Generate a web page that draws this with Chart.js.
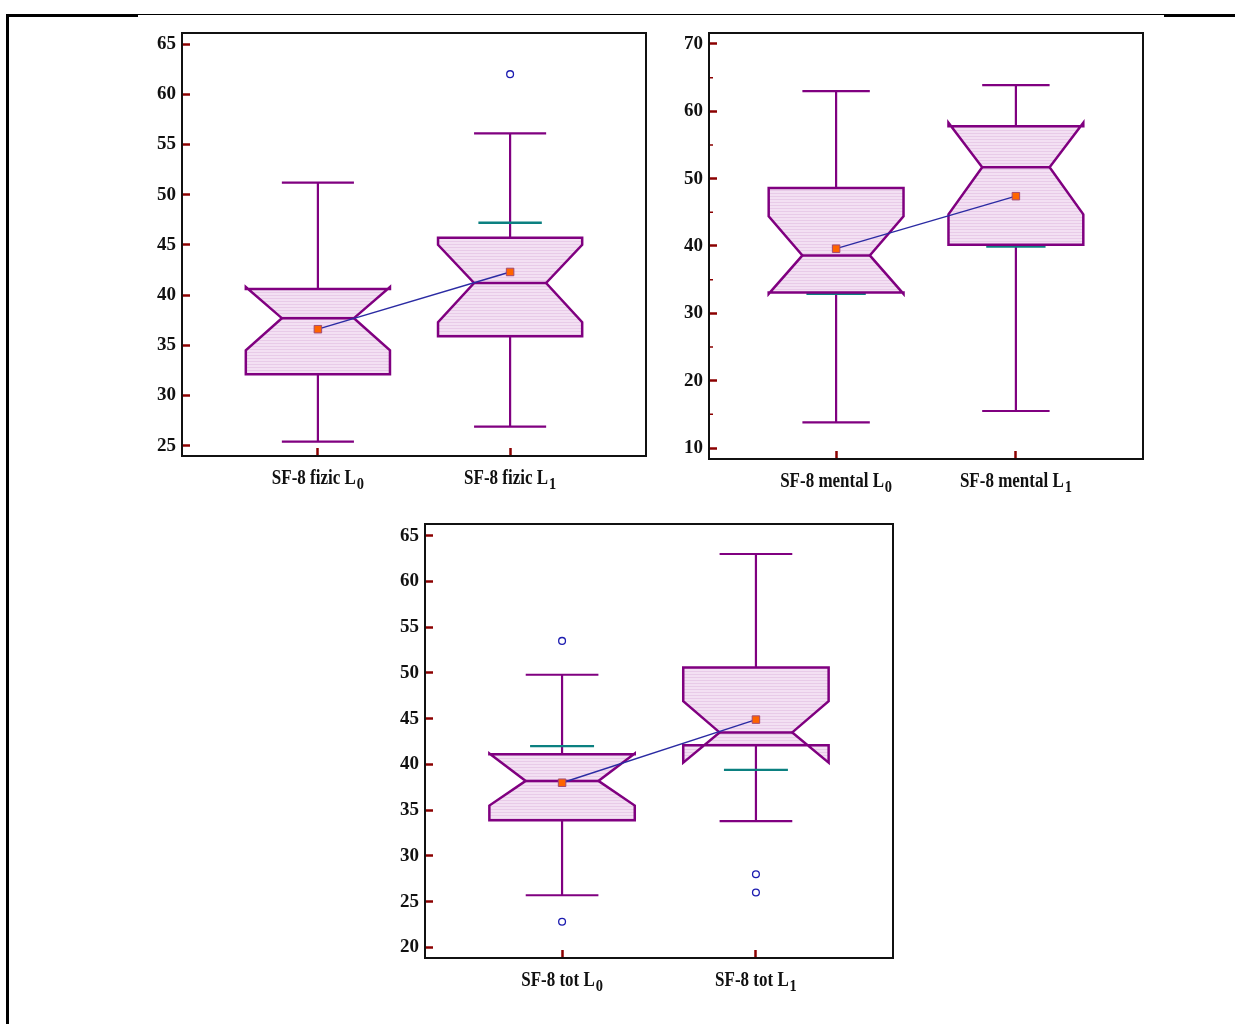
<!DOCTYPE html>
<html>
<head>
<meta charset="utf-8">
<title>SF-8 L0 / L1</title>
<script src="https://cdn.jsdelivr.net/npm/chart.js@4.4.1/dist/chart.umd.min.js"></script>
<style>
  html, body { margin: 0; padding: 0; background: #fff; }
  body { width: 1235px; height: 1024px; position: relative; overflow: hidden; }
  .rule { position: absolute; background: #000; }
  .panel { position: absolute; }
  .panel canvas { display: block; }
</style>
</head>
<body>
<div class="rule" style="left:6px;top:14px;width:132px;height:2.5px"></div>
<div class="rule" style="left:138px;top:14px;width:1026px;height:1.2px"></div>
<div class="rule" style="left:1164px;top:14px;width:71px;height:2.5px"></div>
<div class="rule" style="left:6px;top:14px;width:3px;height:1010px"></div>

<div class="panel" style="left:120px;top:20px"><canvas id="fizic" width="540" height="480"></canvas></div>
<div class="panel" style="left:662px;top:20px"><canvas id="mental" width="498" height="480"></canvas></div>
<div class="panel" style="left:370px;top:510px"><canvas id="tot" width="540" height="490"></canvas></div>

<script>
// ---- SF-8 physical component (fizic) ----
const fizicCategories = ['SF-8 fizic L_0', 'SF-8 fizic L_1'];
const fizicMin        = [25.4, 26.9];
const fizicQ1         = [32.1, 35.9];
const fizicMedian     = [37.7, 41.2];
const fizicQ3         = [40.6, 45.7];
const fizicMax        = [51.2, 56.1];
const fizicNotchLow   = [34.5, 37.3];
const fizicNotchHigh  = [40.8, 45.0];
const fizicMean       = [36.6, 42.3];
const fizicRefLine    = [null, 47.2];
const fizicOutliers   = [[], [62.0]];
const fizicTicks      = [25, 30, 35, 40, 45, 50, 55, 60, 65];
const fizicMinorTicks = [];

// ---- SF-8 mental component ----
const mentalCategories = ['SF-8 mental L_0', 'SF-8 mental L_1'];
const mentalMin        = [13.8, 15.5];
const mentalQ1         = [33.1, 40.2];
const mentalMedian     = [38.6, 51.7];
const mentalQ3         = [48.6, 57.8];
const mentalMax        = [63.0, 63.9];
const mentalNotchLow   = [32.9, 44.7];
const mentalNotchHigh  = [44.4, 58.3];
const mentalMean       = [39.6, 47.4];
const mentalRefLine    = [32.9, 39.9];
const mentalOutliers   = [[], []];
const mentalTicks      = [10, 20, 30, 40, 50, 60, 70];
const mentalMinorTicks = [15, 25, 35, 45, 55, 65];

// ---- SF-8 total score ----
const totCategories = ['SF-8 tot L_0', 'SF-8 tot L_1'];
const totMin        = [25.7, 33.8];
const totQ1         = [33.9, 42.1];
const totMedian     = [38.2, 43.5];
const totQ3         = [41.1, 50.6];
const totMax        = [49.8, 63.0];
const totNotchLow   = [35.5, 40.2];
const totNotchHigh  = [41.2, 46.9];
const totMean       = [38.0, 44.9];
const totRefLine    = [42.0, 39.4];
const totOutliers   = [[53.5, 22.8], [28.0, 26.0]];
const totTicks      = [20, 25, 30, 35, 40, 45, 50, 55, 60, 65];
const totMinorTicks = [];

// ---- drawing ----
const PURPLE = '#800080';
const TEAL = '#0b8080';
const TICK_RED = '#8b0000';
const SERIF = '"Liberation Serif", "Times New Roman", serif';

function stripes(ctx) {
  const c = document.createElement('canvas');
  c.width = 4; c.height = 3;
  const g = c.getContext('2d');
  g.fillStyle = '#f3e0f3'; g.fillRect(0, 0, 4, 3);
  g.fillStyle = '#e8cbe8'; g.fillRect(0, 2, 4, 1);
  return ctx.createPattern(c, 'repeat');
}

const notchedBoxes = {
  id: 'notchedBoxes',
  beforeDatasetsDraw(chart, args, o) {
    const { ctx, scales: { x, y } } = chart;
    const s = o.stats;
    ctx.save();
    for (let i = 0; i < s.median.length; i++) {
      const cx  = x.getPixelForValue(i);
      const xl  = x.getPixelForValue(i - 0.375), xr  = x.getPixelForValue(i + 0.375);
      const xil = x.getPixelForValue(i - 0.1875), xir = x.getPixelForValue(i + 0.1875);
      const yMin = y.getPixelForValue(s.min[i]), yMax = y.getPixelForValue(s.max[i]);
      const yQ1 = y.getPixelForValue(s.q1[i]), yQ3 = y.getPixelForValue(s.q3[i]);
      const yMed = y.getPixelForValue(s.median[i]);
      const yNL = y.getPixelForValue(s.notchLow[i]), yNH = y.getPixelForValue(s.notchHigh[i]);

      // whiskers and caps
      ctx.strokeStyle = PURPLE;
      ctx.lineWidth = 2.2;
      ctx.lineCap = 'butt';
      ctx.beginPath();
      ctx.moveTo(cx, yMax); ctx.lineTo(cx, yQ3);
      ctx.moveTo(cx, yQ1); ctx.lineTo(cx, yMin);
      ctx.moveTo(xil, yMax); ctx.lineTo(xir, yMax);
      ctx.moveTo(xil, yMin); ctx.lineTo(xir, yMin);
      ctx.stroke();

      // reference level line
      if (s.ref[i] != null) {
        const yr = y.getPixelForValue(s.ref[i]);
        ctx.strokeStyle = TEAL;
        ctx.lineWidth = 2.4;
        ctx.beginPath();
        ctx.moveTo(x.getPixelForValue(i - 0.165), yr);
        ctx.lineTo(x.getPixelForValue(i + 0.165), yr);
        ctx.stroke();
      }

      // notched box
      ctx.beginPath();
      ctx.moveTo(xl, yQ3); ctx.lineTo(xl, yNH); ctx.lineTo(xil, yMed); ctx.lineTo(xl, yNL); ctx.lineTo(xl, yQ1);
      ctx.lineTo(xr, yQ1); ctx.lineTo(xr, yNL); ctx.lineTo(xir, yMed); ctx.lineTo(xr, yNH); ctx.lineTo(xr, yQ3);
      ctx.closePath();
      ctx.fillStyle = stripes(ctx);
      ctx.fill();
      ctx.strokeStyle = PURPLE;
      ctx.lineWidth = 2.5;
      ctx.lineJoin = 'miter';
      ctx.stroke();
      ctx.beginPath();
      ctx.moveTo(xil, yMed); ctx.lineTo(xir, yMed);
      ctx.stroke();
    }
    ctx.restore();
  },
  afterDraw(chart, args, o) {
    const { ctx, chartArea: a, scales: { x, y } } = chart;
    ctx.save();
    // minor ticks
    ctx.strokeStyle = TICK_RED;
    ctx.lineWidth = 1.5;
    ctx.beginPath();
    o.minorTicks.forEach(v => {
      const py = y.getPixelForValue(v);
      ctx.moveTo(a.left, py); ctx.lineTo(a.left + 4, py);
    });
    ctx.stroke();
    // plot frame
    ctx.strokeStyle = '#111';
    ctx.lineWidth = 2;
    ctx.strokeRect(a.left, a.top, a.right - a.left, a.bottom - a.top);
    // category labels with subscripts
    ctx.fillStyle = '#111';
    ctx.textBaseline = 'alphabetic';
    o.categories.forEach((lab, i) => {
      const [main, sub] = lab.split('_');
      const cx = x.getPixelForValue(i);
      ctx.save();
      ctx.translate(cx, a.bottom + 28);
      ctx.scale(0.85, 1);
      ctx.font = 'bold 20px ' + SERIF;
      const wMain = ctx.measureText(main).width;
      ctx.font = 'bold 17px ' + SERIF;
      const wSub = ctx.measureText(sub).width;
      const x0 = -(wMain + 1 + wSub) / 2;
      ctx.textAlign = 'left';
      ctx.font = 'bold 20px ' + SERIF;
      ctx.fillText(main, x0, 0);
      ctx.font = 'bold 17px ' + SERIF;
      ctx.fillText(sub, x0 + wMain + 1, 5);
      ctx.restore();
    });
    ctx.restore();
  }
};

function buildChart(id, d, geo) {
  const points = d.outliers.flatMap((arr, i) => arr.map(v => ({ x: i, y: v })));
  return new Chart(document.getElementById(id), {
    type: 'scatter',
    data: {
      datasets: [
        {
          type: 'line',
          data: d.mean.map((m, i) => ({ x: i, y: m })),
          borderColor: '#2b2ba3',
          borderWidth: 1.4,
          pointStyle: 'rect',
          pointRadius: 5.3,
          pointBackgroundColor: '#ff6400',
          pointBorderColor: '#a24a72',
          pointBorderWidth: 1
        },
        {
          data: points,
          pointStyle: 'circle',
          pointRadius: 3.4,
          pointBackgroundColor: 'rgba(255,255,255,0)',
          pointBorderColor: '#1c1cb0',
          pointBorderWidth: 1.3
        }
      ]
    },
    options: {
      responsive: false,
      animation: false,
      devicePixelRatio: 1,
      events: [],
      layout: { padding: { left: 0, top: geo.padTop, right: geo.padRight, bottom: 0 } },
      plugins: {
        legend: { display: false },
        tooltip: { enabled: false },
        notchedBoxes: {
          categories: d.categories,
          minorTicks: d.minorTicks,
          stats: {
            min: d.min, q1: d.q1, median: d.median, q3: d.q3, max: d.max,
            notchLow: d.notchLow, notchHigh: d.notchHigh, ref: d.ref
          }
        }
      },
      scales: {
        x: {
          type: 'linear',
          min: -0.707, max: 1.707,
          afterBuildTicks: s => { s.ticks = d.categories.map((_, i) => ({ value: i })); },
          afterFit: s => { s.height = geo.xAxisHeight; s.paddingLeft = 0; s.paddingRight = 0; },
          ticks: { callback: () => '' },
          grid: { drawOnChartArea: false, tickLength: -8, tickColor: TICK_RED, tickWidth: 2.5 },
          border: { display: false }
        },
        y: {
          type: 'linear',
          min: geo.yMin, max: geo.yMax,
          afterBuildTicks: s => { s.ticks = d.ticks.map(v => ({ value: v })); },
          afterFit: s => { s.width = geo.yAxisWidth; s.paddingTop = 0; s.paddingBottom = 0; },
          ticks: {
            padding: 14,
            color: '#111',
            font: { family: SERIF, size: 19, weight: 'bold' },
            callback: v => String(v)
          },
          grid: { drawOnChartArea: false, tickLength: -8, tickColor: TICK_RED, tickWidth: 2.5 },
          border: { display: false }
        }
      }
    },
    plugins: [notchedBoxes]
  });
}

buildChart('fizic', {
  categories: fizicCategories, min: fizicMin, q1: fizicQ1, median: fizicMedian, q3: fizicQ3,
  max: fizicMax, notchLow: fizicNotchLow, notchHigh: fizicNotchHigh, mean: fizicMean,
  ref: fizicRefLine, outliers: fizicOutliers, ticks: fizicTicks, minorTicks: fizicMinorTicks
}, { padTop: 13, padRight: 14, yAxisWidth: 62, xAxisHeight: 44, yMin: 23.97, yMax: 66.1 });

buildChart('mental', {
  categories: mentalCategories, min: mentalMin, q1: mentalQ1, median: mentalMedian, q3: mentalQ3,
  max: mentalMax, notchLow: mentalNotchLow, notchHigh: mentalNotchHigh, mean: mentalMean,
  ref: mentalRefLine, outliers: mentalOutliers, ticks: mentalTicks, minorTicks: mentalMinorTicks
}, { padTop: 13, padRight: 17, yAxisWidth: 47, xAxisHeight: 41, yMin: 8.37, yMax: 71.63 });

buildChart('tot', {
  categories: totCategories, min: totMin, q1: totQ1, median: totMedian, q3: totQ3,
  max: totMax, notchLow: totNotchLow, notchHigh: totNotchHigh, mean: totMean,
  ref: totRefLine, outliers: totOutliers, ticks: totTicks, minorTicks: totMinorTicks
}, { padTop: 14, padRight: 17, yAxisWidth: 55, xAxisHeight: 42, yMin: 18.84, yMax: 66.28 });
</script>
</body>
</html>
